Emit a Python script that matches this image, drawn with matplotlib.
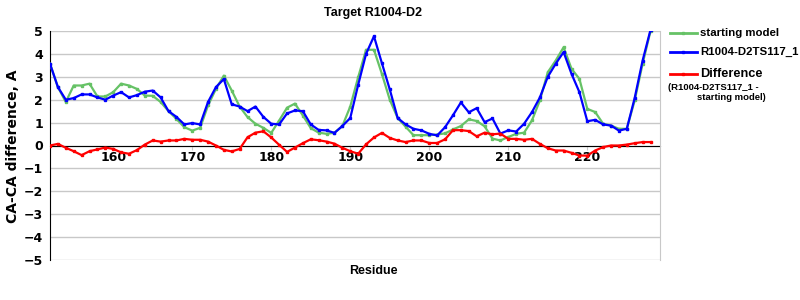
import numpy as np
import matplotlib
matplotlib.use("Agg")
import matplotlib.pyplot as plt
from matplotlib.lines import Line2D

# ---------------------------------------------------------------------------
# Data
# ---------------------------------------------------------------------------
residues = list(range(152, 229))

starting_model = [
    3.57, 2.55, 1.90, 2.62, 2.62, 2.70, 2.14, 2.14, 2.33, 2.70,
    2.62, 2.47, 2.18, 2.17, 1.90, 1.50, 1.16, 0.80, 0.65, 0.77,
    1.75, 2.47, 3.05, 2.40, 1.70, 1.24, 0.95, 0.77, 0.55, 1.09,
    1.65, 1.83, 1.31, 0.76, 0.56, 0.51, 0.56, 0.85, 1.70, 2.98,
    4.18, 4.18, 3.13, 2.00, 1.20, 0.82, 0.45, 0.45, 0.45, 0.48,
    0.53, 0.70, 0.85, 1.14, 1.07, 0.84, 0.30, 0.22, 0.37, 0.51,
    0.56, 1.10, 1.97, 3.20, 3.71, 4.29, 3.35, 2.91, 1.60, 1.46,
    0.95, 0.87, 0.73, 0.73, 1.97, 3.57, 5.00,
]

model_ts117 = [
    3.57, 2.55, 2.00, 2.07, 2.23, 2.23, 2.10, 2.00, 2.18, 2.33,
    2.10, 2.20, 2.35, 2.40, 2.10, 1.50, 1.25, 0.92, 0.98, 0.92,
    1.90, 2.55, 2.90, 1.80, 1.70, 1.50, 1.70, 1.25, 0.95, 0.92,
    1.40, 1.53, 1.50, 0.92, 0.68, 0.66, 0.55, 0.85, 1.20, 2.65,
    4.00, 4.77, 3.60, 2.45, 1.20, 0.92, 0.73, 0.66, 0.51, 0.44,
    0.80, 1.32, 1.88, 1.45, 1.63, 1.02, 1.18, 0.52, 0.66, 0.61,
    0.95, 1.46, 2.10, 3.00, 3.57, 4.08, 3.13, 2.33, 1.06, 1.12,
    0.92, 0.87, 0.65, 0.73, 2.08, 3.71, 5.05,
]

difference = [
    0.00, 0.07, -0.10, -0.25, -0.42, -0.25, -0.17, -0.09, -0.15, -0.30,
    -0.36, -0.20, 0.04, 0.22, 0.17, 0.22, 0.22, 0.29, 0.25, 0.25,
    0.17, 0.00, -0.19, -0.26, -0.15, 0.36, 0.56, 0.62, 0.35, 0.03,
    -0.28, -0.09, 0.10, 0.27, 0.23, 0.17, 0.08, -0.10, -0.25, -0.36,
    0.05, 0.35, 0.55, 0.33, 0.22, 0.15, 0.22, 0.22, 0.11, 0.11,
    0.27, 0.67, 0.67, 0.63, 0.40, 0.56, 0.49, 0.52, 0.29, 0.29,
    0.25, 0.29, 0.07, -0.12, -0.22, -0.22, -0.32, -0.44, -0.44, -0.22,
    -0.07, 0.00, 0.00, 0.04, 0.10, 0.15, 0.15,
]

x_ticks = [160, 170, 180, 190, 200, 210, 220]
y_ticks = [-5, -4, -3, -2, -1, 0, 1, 2, 3, 4, 5]

GREEN = "#66c266"
BLUE = "#0000ff"
RED = "#ff0000"
GRID = "#c8c8c8"

W, H = 800, 300


def fx(px):
    return px / W


def fy(py):
    return 1 - py / H


fig = plt.figure(figsize=(8, 3), dpi=100)
ax = fig.add_axes([fx(50), fy(260), fx(660) - fx(50), fy(31) - fy(260)])

for vals, col in [(starting_model, GREEN), (model_ts117, BLUE), (difference, RED)]:
    ax.plot(residues, vals, color=col, lw=1.6, marker="s", ms=1.6,
            mec=col, mfc=col, zorder=3)

ax.set_xlim(152, 229.2)
ax.set_ylim(-5, 5)
ax.set_yticks(y_ticks)
ax.set_xticks(x_ticks)
ax.yaxis.grid(True, color=GRID, lw=1)
ax.set_axisbelow(True)

ax.spines["top"].set_visible(False)
ax.spines["right"].set_color(GRID)
ax.spines["left"].set_color("black")
ax.spines["bottom"].set_position(("data", 0))
ax.spines["bottom"].set_color("black")
ax.spines["bottom"].set_zorder(2)

ax.tick_params(axis="x", length=3, color=GRID, pad=1, labelsize=9)
ax.tick_params(axis="y", length=0, pad=5, labelsize=9)
for lab in ax.get_xticklabels() + ax.get_yticklabels():
    lab.set_fontweight("bold")
    lab.set_family("DejaVu Sans")

fig.text(fx(373), fy(13), "Target R1004-D2", ha="center", va="center",
         fontsize=9, fontweight="bold", family="Liberation Sans")
fig.text(fx(373), fy(271), "Residue", ha="center", va="center",
         fontsize=9, fontweight="bold", family="Liberation Sans")
fig.text(fx(13), fy(146), "CA-CA difference, A", ha="center", va="center",
         rotation=90, fontsize=10, fontweight="bold", family="DejaVu Sans")

# legend drawn by hand to mimic the original layout
legend_rows = [
    (33, GREEN, "starting model", 8.2),
    (52, BLUE, "R1004-D2TS117_1", 8.2),
    (74, RED, "Difference", 9.2),
]
for py, col, text, size in legend_rows:
    fig.add_artist(Line2D([fx(670), fx(697)], [fy(py), fy(py)], color=col, lw=2))
    fig.add_artist(Line2D([fx(683)], [fy(py)], color=col, marker="s", ms=1.6))
    fig.text(fx(700), fy(py), text, ha="left", va="center", fontsize=size,
             fontweight="bold", family="Liberation Sans")
fig.text(fx(668), fy(88), "(R1004-D2TS117_1 -", ha="left", va="center",
         fontsize=6.8, fontweight="bold", family="Liberation Sans")
fig.text(fx(697), fy(98), "starting model)", ha="left", va="center",
         fontsize=6.8, fontweight="bold", family="Liberation Sans")

fig.savefig("out.png", dpi=100)
